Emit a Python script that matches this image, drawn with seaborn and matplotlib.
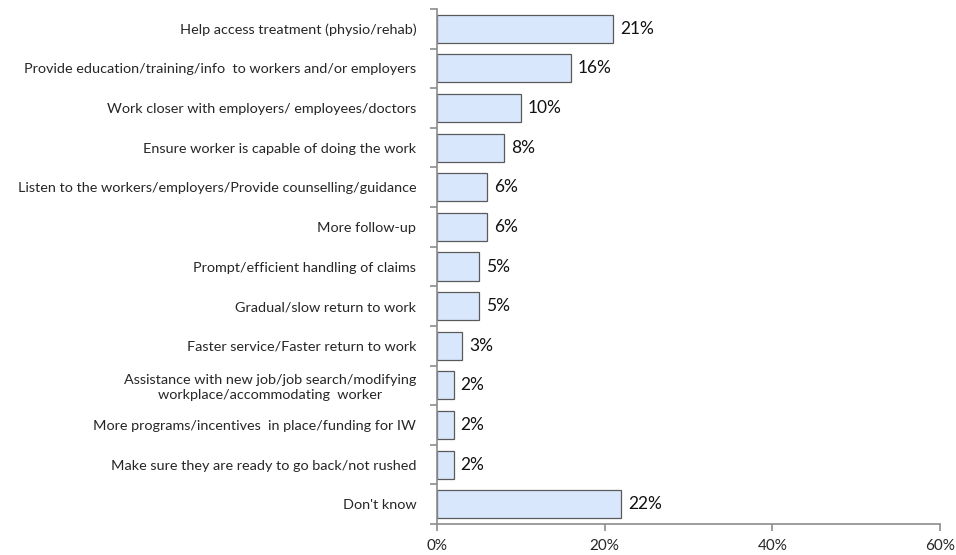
import matplotlib
matplotlib.use("Agg")
import matplotlib.pyplot as plt
import seaborn as sns
import pandas as pd
import numpy as np

categories = [
    "Help access treatment (physio/rehab)",
    "Provide education/training/info  to workers and/or employers",
    "Work closer with employers/ employees/doctors",
    "Ensure worker is capable of doing the work",
    "Listen to the workers/employers/Provide counselling/guidance",
    "More follow-up",
    "Prompt/efficient handling of claims",
    "Gradual/slow return to work",
    "Faster service/Faster return to work",
    "Assistance with new job/job search/modifying\nworkplace/accommodating  worker",
    "More programs/incentives  in place/funding for IW",
    "Make sure they are ready to go back/not rushed",
    "Don't know",
]
values = [21, 16, 10, 8, 6, 6, 5, 5, 3, 2, 2, 2, 22]
x_ticks = [0, 20, 40, 60]

df = pd.DataFrame({"category": categories, "value": values})

sns.set_theme(style="white")
plt.rcParams["font.family"] = ["Lato", "DejaVu Sans"]

fig = plt.figure(figsize=(9.56, 5.55), dpi=100)
ax = fig.add_axes([437 / 956, 31 / 555, 503 / 956, 515 / 555])

sns.barplot(data=df, y="category", x="value", orient="h", ax=ax,
            color="#D9E7FD", edgecolor="#5a5a5a", linewidth=0.9,
            width=0.71, saturation=1)

for i, v in enumerate(values):
    ax.annotate(f"{v}%", xy=(v, i), xytext=(5, 0), textcoords="offset points",
                va="center", ha="left", fontsize=12.5, color="#111111")

ax.set_xlim(0, 60)
ax.set_ylim(len(categories) - 0.5, -0.5)
ax.set_xticks(x_ticks)
ax.set_xticklabels([f"{t}%" for t in x_ticks], fontsize=11)
ax.set_yticks(np.arange(len(categories)))
ax.set_yticklabels(categories, fontsize=10.4, multialignment="center",
                   linespacing=1.25)
ax.set_ylabel("")
ax.set_xlabel("")

# category boundary ticks on the left spine
ax.set_yticks(np.arange(len(categories) + 1) - 0.5, minor=True)
ax.tick_params(axis="y", which="major", left=False, length=0, pad=15)
ax.tick_params(axis="y", which="minor", left=True, length=5, width=1.2,
               color="#8c8c8c", direction="out")
ax.tick_params(axis="x", which="major", bottom=True, length=5, width=1.2,
               color="#8c8c8c", direction="out", pad=6)

for side in ["top", "right"]:
    ax.spines[side].set_visible(False)
for side in ["left", "bottom"]:
    ax.spines[side].set_color("#8c8c8c")
    ax.spines[side].set_linewidth(1.2)

fig.savefig("out.png", dpi=100)
